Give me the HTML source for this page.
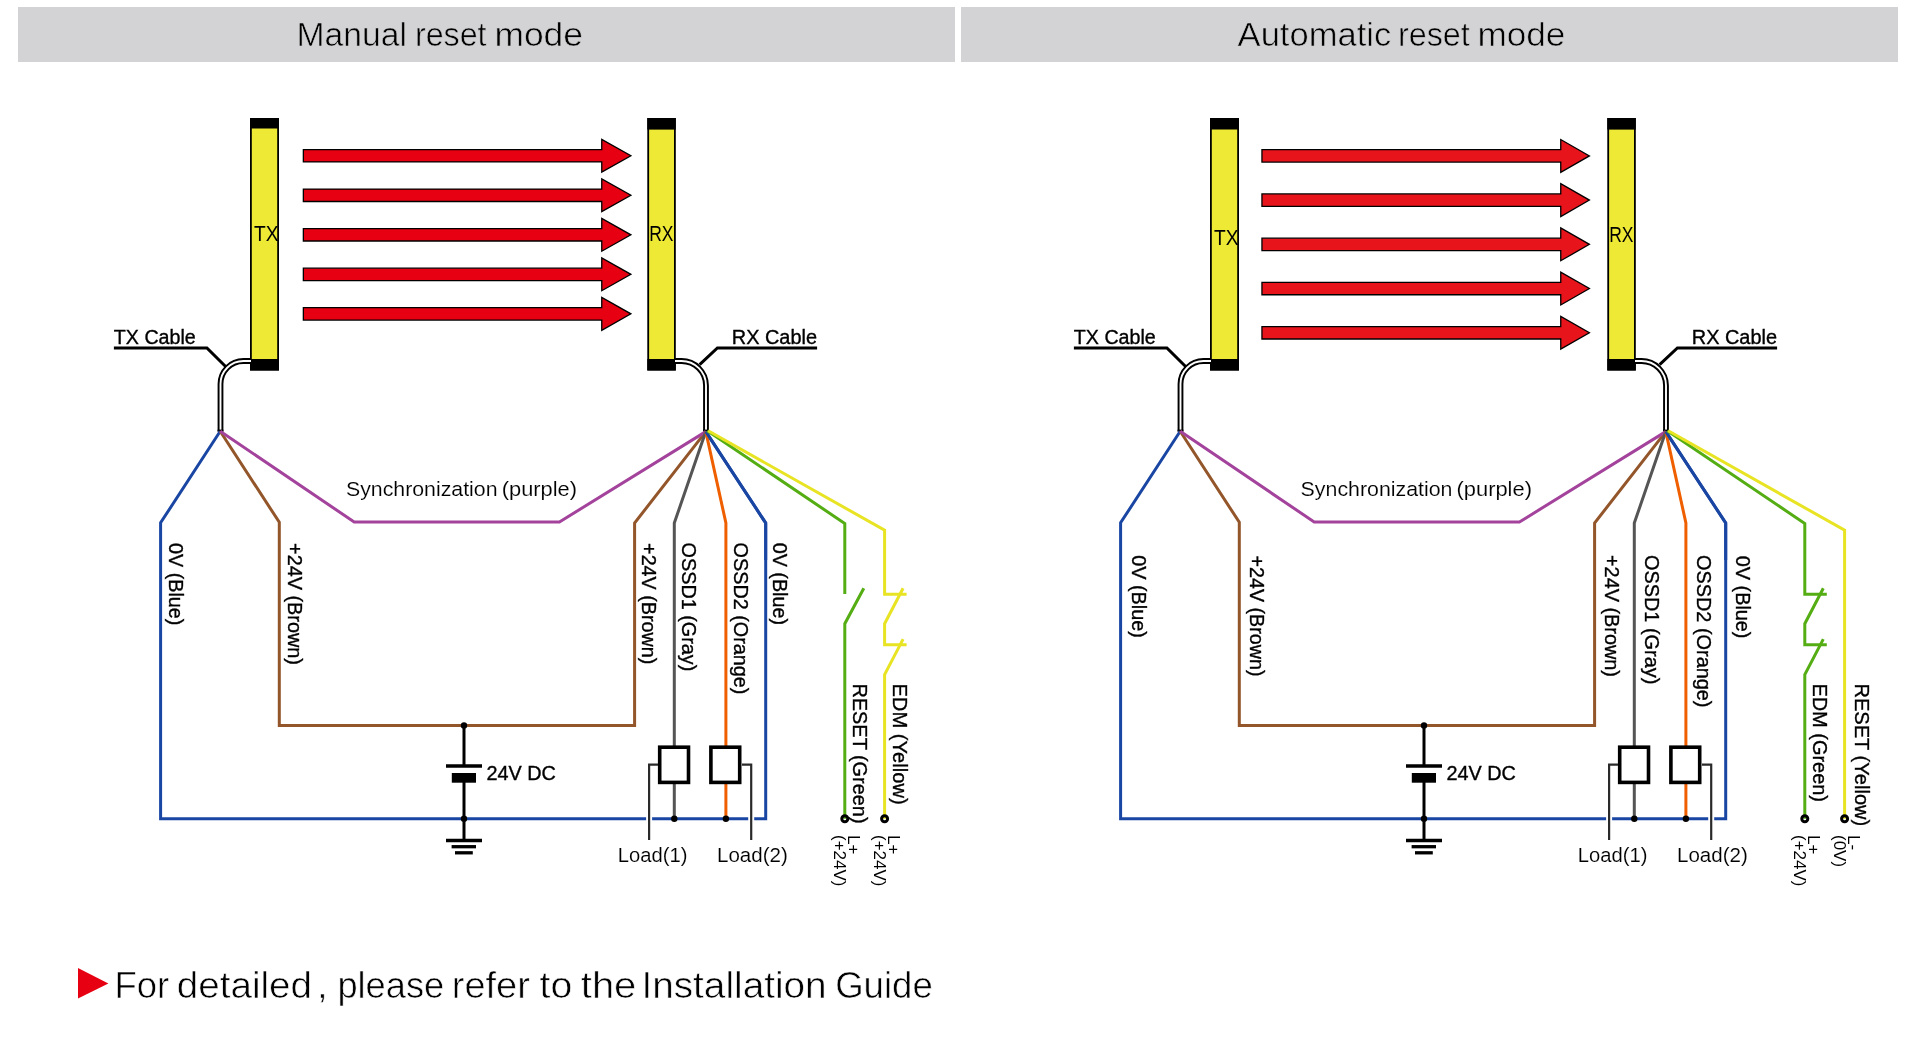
<!DOCTYPE html>
<html><head><meta charset="utf-8"><title>Reset modes</title>
<style>
html,body{margin:0;padding:0;background:#fff;width:1920px;height:1051px;overflow:hidden;}
svg{display:block;font-family:"Liberation Sans", sans-serif;will-change:transform;}
</style></head><body>
<svg width="1920" height="1051" viewBox="0 0 1920 1051">
<rect x="0" y="0" width="1920" height="1051" fill="#fff"/>
<rect x="18" y="7" width="937" height="55" fill="#d3d3d5"/>
<rect x="961" y="7" width="937" height="55" fill="#d3d3d5"/>

<text x="296.40" y="45.80" font-size="33" textLength="110.53" lengthAdjust="spacingAndGlyphs" stroke="#d3d3d5" stroke-width="0.6" fill="#000">Manual</text>
<text x="415.00" y="45.80" font-size="33" textLength="71.57" lengthAdjust="spacingAndGlyphs" stroke="#d3d3d5" stroke-width="0.6" fill="#000">reset</text>
<text x="494.40" y="45.80" font-size="33" textLength="88.66" lengthAdjust="spacingAndGlyphs" stroke="#d3d3d5" stroke-width="0.6" fill="#000">mode</text>
<text x="1237.60" y="45.60" font-size="33" textLength="153.63" lengthAdjust="spacingAndGlyphs" stroke="#d3d3d5" stroke-width="0.6" fill="#000">Automatic</text>
<text x="1398.00" y="45.60" font-size="33" textLength="71.78" lengthAdjust="spacingAndGlyphs" stroke="#d3d3d5" stroke-width="0.6" fill="#000">reset</text>
<text x="1477.40" y="45.60" font-size="33" textLength="87.96" lengthAdjust="spacingAndGlyphs" stroke="#d3d3d5" stroke-width="0.6" fill="#000">mode</text>
<rect x="250.9" y="118.9" width="27.2" height="250.7" fill="#ede935" stroke="#000" stroke-width="1.8"/>
<rect x="250" y="118" width="29" height="10.5" fill="#000"/>
<rect x="250" y="359" width="29" height="11.5" fill="#000"/>
<text x="254.00" y="240.90" font-size="21.5" textLength="24.50" lengthAdjust="spacingAndGlyphs" fill="#000">TX</text>
<rect x="648.1999999999999" y="118.9" width="26.7" height="250.7" fill="#ede935" stroke="#000" stroke-width="1.8"/>
<rect x="647.3" y="118" width="28.5" height="11.6" fill="#000"/>
<rect x="647.3" y="359" width="28.5" height="11.5" fill="#000"/>
<text x="649.20" y="240.90" font-size="21.5" textLength="24.28" lengthAdjust="spacingAndGlyphs" fill="#000">RX</text>
<polygon points="303.35,149.55 601.75,149.55 601.75,139.35 630.90,155.75 601.75,172.15 601.75,161.95 303.35,161.95" fill="#e60012" stroke="#000" stroke-width="1.3" stroke-linejoin="miter"/>
<polygon points="303.35,189.08 601.75,189.08 601.75,178.88 630.90,195.28 601.75,211.68 601.75,201.48 303.35,201.48" fill="#e60012" stroke="#000" stroke-width="1.3" stroke-linejoin="miter"/>
<polygon points="303.35,228.61 601.75,228.61 601.75,218.41 630.90,234.81 601.75,251.21 601.75,241.01 303.35,241.01" fill="#e60012" stroke="#000" stroke-width="1.3" stroke-linejoin="miter"/>
<polygon points="303.35,268.14 601.75,268.14 601.75,257.94 630.90,274.34 601.75,290.74 601.75,280.54 303.35,280.54" fill="#e60012" stroke="#000" stroke-width="1.3" stroke-linejoin="miter"/>
<polygon points="303.35,307.67 601.75,307.67 601.75,297.47 630.90,313.87 601.75,330.27 601.75,320.07 303.35,320.07" fill="#e60012" stroke="#000" stroke-width="1.3" stroke-linejoin="miter"/>
<path d="M251,361 H243.5 A23,23 0 0 0 220.5,384 V431.5" fill="none" stroke="#000" stroke-width="5.8"/>
<path d="M251,361 H243.5 A23,23 0 0 0 220.5,384 V431.5" fill="none" stroke="#fff" stroke-width="1.9"/>
<path d="M675,361 H681.5 A24.5,24.5 0 0 1 706,385.5 V431.5" fill="none" stroke="#000" stroke-width="5.8"/>
<path d="M675,361 H681.5 A24.5,24.5 0 0 1 706,385.5 V431.5" fill="none" stroke="#fff" stroke-width="1.9"/>
<rect x="217.6" y="429.6" width="5.8" height="2" fill="#000"/>
<rect x="703.1" y="429.6" width="5.8" height="2" fill="#000"/>
<polyline points="113.90,348.00 206.90,348.00 225.60,366.50" fill="none" stroke="#000" stroke-width="3" stroke-linejoin="miter" stroke-miterlimit="10" />
<polyline points="817.10,348.00 717.40,348.00 699.60,364.70" fill="none" stroke="#000" stroke-width="3" stroke-linejoin="miter" stroke-miterlimit="10" />
<text x="113.80" y="343.80" font-size="20" textLength="81.98" lengthAdjust="spacingAndGlyphs" stroke="#000" stroke-width="0.35" fill="#000">TX Cable</text>
<text x="731.80" y="343.70" font-size="20" textLength="85.21" lengthAdjust="spacingAndGlyphs" stroke="#000" stroke-width="0.35" fill="#000">RX Cable</text>
<polyline points="220.20,431.30 160.60,522.80 160.60,818.70 765.70,818.70 765.70,523.00 705.80,431.60" fill="none" stroke="#1a46a3" stroke-width="3" stroke-linejoin="miter" stroke-miterlimit="10" />
<polyline points="220.20,431.30 279.30,522.30 279.30,725.40 634.60,725.40 634.60,523.00 705.80,431.60" fill="none" stroke="#93562a" stroke-width="3" stroke-linejoin="miter" stroke-miterlimit="10" />
<polyline points="220.20,431.30 354.20,522.00 559.40,522.00 705.80,431.60" fill="none" stroke="#a3439c" stroke-width="3" stroke-linejoin="miter" stroke-miterlimit="10" />
<polyline points="705.80,431.60 674.30,523.00 674.30,818.70" fill="none" stroke="#555555" stroke-width="3" stroke-linejoin="miter" stroke-miterlimit="10" />
<polyline points="705.80,431.60 725.90,523.00 725.90,818.70" fill="none" stroke="#ef5f00" stroke-width="3" stroke-linejoin="miter" stroke-miterlimit="10" />
<polyline points="765.70,560.00 765.70,523.00 705.80,431.60" fill="none" stroke="#1a46a3" stroke-width="3" stroke-linejoin="miter" stroke-miterlimit="10" />
<polyline points="707.30,430.70 844.80,523.50 844.80,594.00" fill="none" stroke="#55ad14" stroke-width="3" stroke-linejoin="miter" stroke-miterlimit="10" />
<polyline points="863.80,588.30 844.80,623.70 844.80,818.80" fill="none" stroke="#55ad14" stroke-width="3" stroke-linejoin="miter" stroke-miterlimit="10" />
<polyline points="708.20,430.80 884.60,530.20 884.60,594.20 906.60,594.20" fill="none" stroke="#e8e424" stroke-width="3" stroke-linejoin="miter" stroke-miterlimit="10" />
<polyline points="903.10,588.30 884.60,623.70 884.60,644.80 906.60,644.80" fill="none" stroke="#e8e424" stroke-width="3" stroke-linejoin="miter" stroke-miterlimit="10" />
<polyline points="903.10,639.10 884.60,674.50 884.60,818.80" fill="none" stroke="#e8e424" stroke-width="3" stroke-linejoin="miter" stroke-miterlimit="10" />
<line x1="464" y1="725.4" x2="464" y2="766" stroke="#000" stroke-width="3" stroke-linecap="butt"/>
<line x1="446" y1="765.9" x2="482" y2="765.9" stroke="#000" stroke-width="3.5" stroke-linecap="butt"/>
<rect x="451.8" y="773" width="24.2" height="9.7" fill="#000"/>
<line x1="464" y1="782" x2="464" y2="840.5" stroke="#000" stroke-width="3" stroke-linecap="butt"/>
<line x1="446" y1="840.5" x2="482" y2="840.5" stroke="#000" stroke-width="3.5" stroke-linecap="butt"/>
<line x1="451.6" y1="846.7" x2="476" y2="846.7" stroke="#000" stroke-width="3.3" stroke-linecap="butt"/>
<line x1="455" y1="852.8" x2="472.8" y2="852.8" stroke="#000" stroke-width="3.3" stroke-linecap="butt"/>
<circle cx="464" cy="725.4" r="3.2" fill="#000"/>
<circle cx="464" cy="818.7" r="3.2" fill="#000"/>
<circle cx="674.3" cy="818.7" r="3.2" fill="#000"/>
<circle cx="725.9" cy="818.7" r="3.2" fill="#000"/>
<text x="486.40" y="780.10" font-size="20" textLength="69.43" lengthAdjust="spacingAndGlyphs" stroke="#000" stroke-width="0.35" fill="#000">24V DC</text>
<rect x="659.7" y="747.2" width="28.8" height="35.2" fill="#fff" stroke="#000" stroke-width="3.6"/>
<rect x="710.9" y="747.2" width="28.8" height="35.2" fill="#fff" stroke="#000" stroke-width="3.6"/>
<line x1="649.1" y1="812" x2="649.1" y2="825" stroke="#fff" stroke-width="6" stroke-linecap="butt"/>
<line x1="751.2" y1="812" x2="751.2" y2="825" stroke="#fff" stroke-width="6" stroke-linecap="butt"/>
<polyline points="658.00,764.70 649.10,764.70 649.10,840.00" fill="none" stroke="#2a2a2a" stroke-width="2.2" stroke-linejoin="miter" stroke-miterlimit="10" />
<polyline points="742.00,764.70 751.20,764.70 751.20,840.00" fill="none" stroke="#2a2a2a" stroke-width="2.2" stroke-linejoin="miter" stroke-miterlimit="10" />
<text x="617.80" y="861.80" font-size="20" textLength="69.64" lengthAdjust="spacingAndGlyphs" stroke="#fff" stroke-width="0.12" fill="#000">Load(1)</text>
<text x="717.00" y="861.80" font-size="20" textLength="70.84" lengthAdjust="spacingAndGlyphs" stroke="#fff" stroke-width="0.12" fill="#000">Load(2)</text>
<circle cx="844.8" cy="818.8" r="3.0" fill="none" stroke="#000" stroke-width="3.0"/>
<circle cx="884.6" cy="818.8" r="3.0" fill="none" stroke="#000" stroke-width="3.0"/>
<text transform="translate(168.98,543.00) rotate(90)" x="0" y="0" font-size="20" textLength="82.38" lengthAdjust="spacingAndGlyphs" stroke="#000" stroke-width="0.35" fill="#000">0V (Blue)</text>
<text transform="translate(288.25,543.05) rotate(90)" x="0" y="0" font-size="20" textLength="121.84" lengthAdjust="spacingAndGlyphs" stroke="#000" stroke-width="0.35" fill="#000">+24V (Brown)</text>
<text transform="translate(642.35,543.10) rotate(90)" x="0" y="0" font-size="20" textLength="121.34" lengthAdjust="spacingAndGlyphs" stroke="#000" stroke-width="0.35" fill="#000">+24V (Brown)</text>
<text transform="translate(682.30,542.60) rotate(90)" x="0" y="0" font-size="20" textLength="128.63" lengthAdjust="spacingAndGlyphs" stroke="#000" stroke-width="0.35" fill="#000">OSSD1 (Gray)</text>
<text transform="translate(733.90,542.60) rotate(90)" x="0" y="0" font-size="20" textLength="151.79" lengthAdjust="spacingAndGlyphs" stroke="#000" stroke-width="0.35" fill="#000">OSSD2 (Orange)</text>
<text transform="translate(773.15,542.70) rotate(90)" x="0" y="0" font-size="20" textLength="82.38" lengthAdjust="spacingAndGlyphs" stroke="#000" stroke-width="0.35" fill="#000">0V (Blue)</text>
<text transform="translate(853.25,683.40) rotate(90)" x="0" y="0" font-size="20" textLength="140.18" lengthAdjust="spacingAndGlyphs" stroke="#000" stroke-width="0.35" fill="#000">RESET (Green)</text>
<text transform="translate(892.80,683.40) rotate(90)" x="0" y="0" font-size="20" textLength="121.31" lengthAdjust="spacingAndGlyphs" stroke="#000" stroke-width="0.35" fill="#000">EDM (Yellow)</text>
<text transform="translate(848.40,835.00) rotate(90)" font-size="17" fill="#000"><tspan x="0" y="0">L+</tspan><tspan x="0" y="14.5">(+24V)</tspan></text>
<text transform="translate(888.40,835.00) rotate(90)" font-size="17" fill="#000"><tspan x="0" y="0">L+</tspan><tspan x="0" y="14.5">(+24V)</tspan></text>
<rect x="1210.9" y="118.9" width="27.2" height="250.7" fill="#ede935" stroke="#000" stroke-width="1.8"/>
<rect x="1210" y="118" width="29" height="11.5" fill="#000"/>
<rect x="1210" y="359" width="29" height="11.5" fill="#000"/>
<text x="1214.00" y="245.20" font-size="21.5" textLength="24.50" lengthAdjust="spacingAndGlyphs" fill="#000">TX</text>
<rect x="1608.2" y="118.9" width="26.7" height="250.7" fill="#ede935" stroke="#000" stroke-width="1.8"/>
<rect x="1607.3" y="118" width="28.5" height="11.6" fill="#000"/>
<rect x="1607.3" y="359" width="28.5" height="11.5" fill="#000"/>
<text x="1609.20" y="242.40" font-size="21.5" textLength="24.28" lengthAdjust="spacingAndGlyphs" fill="#000">RX</text>
<polygon points="1261.95,149.70 1560.75,149.70 1560.75,139.50 1589.40,155.90 1560.75,172.30 1560.75,162.10 1261.95,162.10" fill="#e8141c" stroke="#000" stroke-width="1.3" stroke-linejoin="miter"/>
<polygon points="1261.95,193.92 1560.75,193.92 1560.75,183.72 1589.40,200.12 1560.75,216.52 1560.75,206.32 1261.95,206.32" fill="#e8141c" stroke="#000" stroke-width="1.3" stroke-linejoin="miter"/>
<polygon points="1261.95,238.14 1560.75,238.14 1560.75,227.94 1589.40,244.34 1560.75,260.74 1560.75,250.54 1261.95,250.54" fill="#e8141c" stroke="#000" stroke-width="1.3" stroke-linejoin="miter"/>
<polygon points="1261.95,282.36 1560.75,282.36 1560.75,272.16 1589.40,288.56 1560.75,304.96 1560.75,294.76 1261.95,294.76" fill="#e8141c" stroke="#000" stroke-width="1.3" stroke-linejoin="miter"/>
<polygon points="1261.95,326.58 1560.75,326.58 1560.75,316.38 1589.40,332.78 1560.75,349.18 1560.75,338.98 1261.95,338.98" fill="#e8141c" stroke="#000" stroke-width="1.3" stroke-linejoin="miter"/>
<path d="M1211,361 H1203.5 A23,23 0 0 0 1180.5,384 V431.5" fill="none" stroke="#000" stroke-width="5.8"/>
<path d="M1211,361 H1203.5 A23,23 0 0 0 1180.5,384 V431.5" fill="none" stroke="#fff" stroke-width="1.9"/>
<path d="M1635,361 H1641.5 A24.5,24.5 0 0 1 1666,385.5 V431.5" fill="none" stroke="#000" stroke-width="5.8"/>
<path d="M1635,361 H1641.5 A24.5,24.5 0 0 1 1666,385.5 V431.5" fill="none" stroke="#fff" stroke-width="1.9"/>
<rect x="1177.6" y="429.6" width="5.8" height="2" fill="#000"/>
<rect x="1663.1" y="429.6" width="5.8" height="2" fill="#000"/>
<polyline points="1073.90,348.00 1166.90,348.00 1185.60,366.50" fill="none" stroke="#000" stroke-width="3" stroke-linejoin="miter" stroke-miterlimit="10" />
<polyline points="1777.10,348.00 1677.40,348.00 1659.60,364.70" fill="none" stroke="#000" stroke-width="3" stroke-linejoin="miter" stroke-miterlimit="10" />
<text x="1073.80" y="343.80" font-size="20" textLength="81.97" lengthAdjust="spacingAndGlyphs" stroke="#000" stroke-width="0.35" fill="#000">TX Cable</text>
<text x="1691.80" y="343.70" font-size="20" textLength="85.21" lengthAdjust="spacingAndGlyphs" stroke="#000" stroke-width="0.35" fill="#000">RX Cable</text>
<polyline points="1180.20,431.30 1120.60,522.80 1120.60,818.70 1725.70,818.70 1725.70,523.00 1665.80,431.60" fill="none" stroke="#1a46a3" stroke-width="3" stroke-linejoin="miter" stroke-miterlimit="10" />
<polyline points="1180.20,431.30 1239.30,522.30 1239.30,725.40 1594.60,725.40 1594.60,523.00 1665.80,431.60" fill="none" stroke="#93562a" stroke-width="3" stroke-linejoin="miter" stroke-miterlimit="10" />
<polyline points="1180.20,431.30 1314.20,522.00 1519.40,522.00 1665.80,431.60" fill="none" stroke="#a3439c" stroke-width="3" stroke-linejoin="miter" stroke-miterlimit="10" />
<polyline points="1665.80,431.60 1634.30,523.00 1634.30,818.70" fill="none" stroke="#555555" stroke-width="3" stroke-linejoin="miter" stroke-miterlimit="10" />
<polyline points="1665.80,431.60 1685.90,523.00 1685.90,818.70" fill="none" stroke="#ef5f00" stroke-width="3" stroke-linejoin="miter" stroke-miterlimit="10" />
<polyline points="1725.70,560.00 1725.70,523.00 1665.80,431.60" fill="none" stroke="#1a46a3" stroke-width="3" stroke-linejoin="miter" stroke-miterlimit="10" />
<polyline points="1667.30,430.70 1804.80,523.50 1804.80,594.20 1826.80,594.20" fill="none" stroke="#55ad14" stroke-width="3" stroke-linejoin="miter" stroke-miterlimit="10" />
<polyline points="1823.30,588.30 1804.80,623.70 1804.80,644.80 1826.80,644.80" fill="none" stroke="#55ad14" stroke-width="3" stroke-linejoin="miter" stroke-miterlimit="10" />
<polyline points="1823.30,639.10 1804.80,674.50 1804.80,818.80" fill="none" stroke="#55ad14" stroke-width="3" stroke-linejoin="miter" stroke-miterlimit="10" />
<polyline points="1668.20,430.80 1844.60,530.20 1844.60,818.80" fill="none" stroke="#e8e424" stroke-width="3" stroke-linejoin="miter" stroke-miterlimit="10" />
<line x1="1424" y1="725.4" x2="1424" y2="766" stroke="#000" stroke-width="3" stroke-linecap="butt"/>
<line x1="1406" y1="765.9" x2="1442" y2="765.9" stroke="#000" stroke-width="3.5" stroke-linecap="butt"/>
<rect x="1411.8" y="773" width="24.2" height="9.7" fill="#000"/>
<line x1="1424" y1="782" x2="1424" y2="840.5" stroke="#000" stroke-width="3" stroke-linecap="butt"/>
<line x1="1406" y1="840.5" x2="1442" y2="840.5" stroke="#000" stroke-width="3.5" stroke-linecap="butt"/>
<line x1="1411.6" y1="846.7" x2="1436" y2="846.7" stroke="#000" stroke-width="3.3" stroke-linecap="butt"/>
<line x1="1415" y1="852.8" x2="1432.8" y2="852.8" stroke="#000" stroke-width="3.3" stroke-linecap="butt"/>
<circle cx="1424" cy="725.4" r="3.2" fill="#000"/>
<circle cx="1424" cy="818.7" r="3.2" fill="#000"/>
<circle cx="1634.3" cy="818.7" r="3.2" fill="#000"/>
<circle cx="1685.9" cy="818.7" r="3.2" fill="#000"/>
<text x="1446.40" y="780.10" font-size="20" textLength="69.43" lengthAdjust="spacingAndGlyphs" stroke="#000" stroke-width="0.35" fill="#000">24V DC</text>
<rect x="1619.7" y="747.2" width="28.8" height="35.2" fill="#fff" stroke="#000" stroke-width="3.6"/>
<rect x="1670.9" y="747.2" width="28.8" height="35.2" fill="#fff" stroke="#000" stroke-width="3.6"/>
<line x1="1609.1" y1="812" x2="1609.1" y2="825" stroke="#fff" stroke-width="6" stroke-linecap="butt"/>
<line x1="1711.2" y1="812" x2="1711.2" y2="825" stroke="#fff" stroke-width="6" stroke-linecap="butt"/>
<polyline points="1618.00,764.70 1609.10,764.70 1609.10,840.00" fill="none" stroke="#2a2a2a" stroke-width="2.2" stroke-linejoin="miter" stroke-miterlimit="10" />
<polyline points="1702.00,764.70 1711.20,764.70 1711.20,840.00" fill="none" stroke="#2a2a2a" stroke-width="2.2" stroke-linejoin="miter" stroke-miterlimit="10" />
<text x="1577.80" y="861.80" font-size="20" textLength="69.64" lengthAdjust="spacingAndGlyphs" stroke="#fff" stroke-width="0.12" fill="#000">Load(1)</text>
<text x="1677.00" y="861.80" font-size="20" textLength="70.84" lengthAdjust="spacingAndGlyphs" stroke="#fff" stroke-width="0.12" fill="#000">Load(2)</text>
<circle cx="1804.8" cy="818.8" r="3.0" fill="none" stroke="#000" stroke-width="3.0"/>
<circle cx="1844.6" cy="818.8" r="3.0" fill="none" stroke="#000" stroke-width="3.0"/>
<text transform="translate(1131.68,555.20) rotate(90)" x="0" y="0" font-size="20" textLength="82.68" lengthAdjust="spacingAndGlyphs" stroke="#000" stroke-width="0.35" fill="#000">0V (Blue)</text>
<text transform="translate(1249.85,555.60) rotate(90)" x="0" y="0" font-size="20" textLength="120.84" lengthAdjust="spacingAndGlyphs" stroke="#000" stroke-width="0.35" fill="#000">+24V (Brown)</text>
<text transform="translate(1604.70,555.00) rotate(90)" x="0" y="0" font-size="20" textLength="121.94" lengthAdjust="spacingAndGlyphs" stroke="#000" stroke-width="0.35" fill="#000">+24V (Brown)</text>
<text transform="translate(1644.95,555.00) rotate(90)" x="0" y="0" font-size="20" textLength="129.33" lengthAdjust="spacingAndGlyphs" stroke="#000" stroke-width="0.35" fill="#000">OSSD1 (Gray)</text>
<text transform="translate(1696.80,555.00) rotate(90)" x="0" y="0" font-size="20" textLength="152.49" lengthAdjust="spacingAndGlyphs" stroke="#000" stroke-width="0.35" fill="#000">OSSD2 (Orange)</text>
<text transform="translate(1736.25,555.80) rotate(90)" x="0" y="0" font-size="20" textLength="82.68" lengthAdjust="spacingAndGlyphs" stroke="#000" stroke-width="0.35" fill="#000">0V (Blue)</text>
<text transform="translate(1813.20,683.40) rotate(90)" x="0" y="0" font-size="20" textLength="118.61" lengthAdjust="spacingAndGlyphs" stroke="#000" stroke-width="0.35" fill="#000">EDM (Green)</text>
<text transform="translate(1854.90,683.40) rotate(90)" x="0" y="0" font-size="20" textLength="142.88" lengthAdjust="spacingAndGlyphs" stroke="#000" stroke-width="0.35" fill="#000">RESET (Yellow)</text>
<text transform="translate(1808.40,835.00) rotate(90)" font-size="17" fill="#000"><tspan x="0" y="0">L+</tspan><tspan x="0" y="14.5">(+24V)</tspan></text>
<text transform="translate(1848.15,835.00) rotate(90)" font-size="17" fill="#000"><tspan x="0" y="0">L-</tspan><tspan x="0" y="14.5">(0V)</tspan></text>
<text x="346.00" y="496.00" font-size="20.5" textLength="151.51" lengthAdjust="spacingAndGlyphs" stroke="#fff" stroke-width="0.12" fill="#000">Synchronization</text>
<text x="501.80" y="496.00" font-size="20.5" textLength="75.12" lengthAdjust="spacingAndGlyphs" stroke="#fff" stroke-width="0.12" fill="#000">(purple)</text>
<text x="1300.60" y="496.30" font-size="20.5" textLength="151.91" lengthAdjust="spacingAndGlyphs" stroke="#fff" stroke-width="0.12" fill="#000">Synchronization</text>
<text x="1456.60" y="496.30" font-size="20.5" textLength="75.32" lengthAdjust="spacingAndGlyphs" stroke="#fff" stroke-width="0.12" fill="#000">(purple)</text>
<polygon points="78,968 78,998.6 108.4,983.5" fill="#e60012"/>
<text x="114.40" y="998.00" font-size="37" textLength="54.80" lengthAdjust="spacingAndGlyphs" stroke="#fff" stroke-width="0.6" fill="#000">For</text>
<text x="176.80" y="998.00" font-size="37" textLength="135.21" lengthAdjust="spacingAndGlyphs" stroke="#fff" stroke-width="0.6" fill="#000">detailed</text>
<text x="317.20" y="998.00" font-size="37" stroke="#fff" stroke-width="0.6" fill="#000">,</text>
<text x="337.40" y="998.00" font-size="37" textLength="106.83" lengthAdjust="spacingAndGlyphs" stroke="#fff" stroke-width="0.6" fill="#000">please</text>
<text x="451.80" y="998.00" font-size="37" textLength="77.98" lengthAdjust="spacingAndGlyphs" stroke="#fff" stroke-width="0.6" fill="#000">refer</text>
<text x="539.60" y="998.00" font-size="37" textLength="32.76" lengthAdjust="spacingAndGlyphs" stroke="#fff" stroke-width="0.6" fill="#000">to</text>
<text x="580.80" y="998.00" font-size="37" textLength="55.54" lengthAdjust="spacingAndGlyphs" stroke="#fff" stroke-width="0.6" fill="#000">the</text>
<text x="641.40" y="998.00" font-size="37" textLength="185.29" lengthAdjust="spacingAndGlyphs" stroke="#fff" stroke-width="0.6" fill="#000">Installation</text>
<text x="835.20" y="998.00" font-size="37" textLength="97.53" lengthAdjust="spacingAndGlyphs" stroke="#fff" stroke-width="0.6" fill="#000">Guide</text>
</svg></body></html>
